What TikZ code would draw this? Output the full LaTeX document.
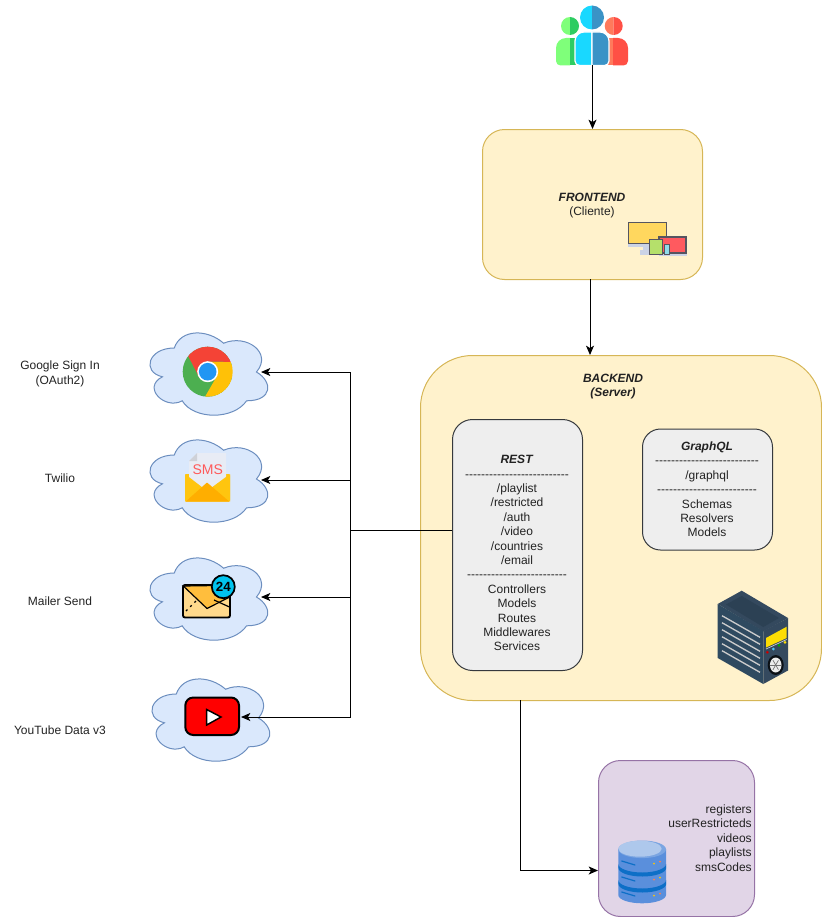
\documentclass[tikz,border=0pt]{standalone}
\usepackage{fontspec}
\setmainfont{Liberation Sans}
\newfontfamily\dashfont{Liberation Sans}
\usetikzlibrary{arrows.meta}
\definecolor{ink}{HTML}{222222}
\definecolor{cloudedge}{HTML}{6C8EBF}
\definecolor{cloudfill}{HTML}{DAE8FC}
\definecolor{frontedge}{HTML}{D6B656}
\definecolor{frontfill}{HTML}{FFF2CC}
\definecolor{restedge}{HTML}{36393D}
\definecolor{restfill}{HTML}{EEEEEE}
\definecolor{dbedge}{HTML}{9673A6}
\definecolor{dbfill}{HTML}{E1D5E7}
\definecolor{srvA}{HTML}{34495E}
\definecolor{srvB}{HTML}{2C4154}
\definecolor{srvD}{HTML}{2F4A60}
\definecolor{ga}{HTML}{7FFF7A}
\definecolor{gb}{HTML}{2ECC62}
\definecolor{ra}{HTML}{FF7A5C}
\definecolor{rb}{HTML}{FF5045}
\definecolor{ba}{HTML}{19D8FF}
\definecolor{bb}{HTML}{3A93C6}
\definecolor{chg}{HTML}{4CAF50}
\definecolor{chy}{HTML}{FFC107}
\definecolor{chr}{HTML}{F44336}
\definecolor{chb}{HTML}{2196F3}
\definecolor{sma}{HTML}{FFC50F}
\definecolor{smb}{HTML}{FFAE00}
\definecolor{smp}{HTML}{E8ECF5}
\definecolor{mla}{HTML}{FFD98C}
\definecolor{mlb}{HTML}{FFBE3D}
\definecolor{mlc}{HTML}{00C3EE}
\definecolor{dba}{HTML}{5A8FDC}
\definecolor{dbb}{HTML}{7AA5E2}
\definecolor{dbc}{HTML}{AEC8EC}
\definecolor{dbd}{HTML}{0D6FC7}
\definecolor{dvy}{HTML}{FFD75E}
\definecolor{dvr}{HTML}{FF5A5F}
\definecolor{dvg}{HTML}{B5E06B}
\definecolor{dvc}{HTML}{8FDCEB}
\definecolor{dvs}{HTML}{CBD3E6}
\definecolor{dve}{HTML}{555560}
\tikzset{
  box/.style={draw=#1,line width=0.75pt,inner sep=0pt,anchor=north west},
  conn/.style={draw=black,line width=0.75pt,-{Stealth[length=7pt,width=6pt,inset=1.8pt]}},
  lbl/.style={font=\fontsize{9}{10.8}\selectfont,text=ink,align=center,inner sep=0pt},
  cloudline/.style={draw=cloudedge,fill=cloudfill,line width=0.75pt},
  cloudicon/.pic={
    \path[cloudline] (32.875,24) .. controls (6.575,24) and (0,48) .. (21.04,52.8)
      .. controls (0,63.36) and (23.67,86.4) .. (40.765,76.8)
      .. controls (52.6,96) and (92.05,96) .. (105.2,76.8)
      .. controls (131.5,76.8) and (131.5,57.6) .. (115.06,48)
      .. controls (131.5,28.8) and (105.2,9.6) .. (82.19,19.2)
      .. controls (65.75,4.8) and (39.45,4.8) .. (32.875,24) -- cycle;
  }
}
\begin{document}
\begin{tikzpicture}[x=0.75pt,y=-0.75pt]
\useasboundingbox (0,0) rectangle (821,917);

% containers
\node[box=frontedge,fill=frontfill,rounded corners=16.5pt,minimum width=165pt,minimum height=112.5pt] (frontend) at (482,129) {};
\node[box=frontedge,fill=frontfill,rounded corners=39pt,minimum width=300.75pt,minimum height=258.75pt] (backend) at (420,355) {};
\node[box=restedge,fill=restfill,rounded corners=15pt,minimum width=97.5pt,minimum height=188.25pt] (rest) at (452,419) {};
\node[box=restedge,fill=restfill,rounded corners=13.5pt,minimum width=97.5pt,minimum height=90.75pt] (graphql) at (642,428.5) {};
\node[box=dbedge,fill=dbfill,rounded corners=16.5pt,minimum width=117pt,minimum height=117pt] (mongo) at (598,760) {};

% texts
\node[lbl] (fronttext) at (592,205.5) {\textbf{\textit{FRONTEND}}\\(Cliente)};
\node[lbl] (backtext) at (613,386.5) {\textbf{\textit{BACKEND}}\\\textbf{\textit{(Server)}}};
\node[lbl,anchor=north] (resttext) at (517,455) {\textbf{\textit{REST}}\\{\dashfont --------------------------}\\/playlist\\/restricted\\/auth\\/video\\/countries\\/email\\{\dashfont -------------------------}\\Controllers\\Models\\Routes\\Middlewares\\Services};
\node[lbl,anchor=north] (graphtext) at (707,441.5) {\textbf{\textit{GraphQL}}\\{\dashfont --------------------------}\\/graphql\\{\dashfont -------------------------}\\Schemas\\Resolvers\\Models};
\node[lbl,align=right,anchor=north east] (dbtext) at (752,804.5) {registers\\userRestricteds\\videos\\playlists\\smsCodes};
\node[lbl] (googletext) at (60,374) {Google Sign In\\(OAuth2)};
\node[lbl] (twiliotext) at (60,478) {Twilio};
\node[lbl] (mailertext) at (60,601.5) {Mailer Send};
\node[lbl] (youtubetext) at (60,730) {YouTube Data v3};

% clouds
\pic at (141.4,324) {cloudicon};
\pic at (141.4,431) {cloudicon};
\pic at (141.4,549) {cloudicon};
\pic at (143.4,670) {cloudicon};

% users icon
\fill[ga] (570,17) arc (-90:-270:9) -- cycle;
\fill[gb] (570,17) arc (-90:90:9) -- cycle;
\fill[ra] (613.7,17) arc (-90:-270:9) -- cycle;
\fill[rb] (613.7,17) arc (-90:90:9) -- cycle;
\fill[ga] (570,38) -- (566,38) arc (-90:-180:10) -- (556,61) arc (-180:-270:4.5) -- (570,65.5) -- cycle;
\fill[gb] (570,38) rectangle (578,65.5);
\fill[ra] (606,38) rectangle (614,65.5);
\fill[rb] (613,38) -- (618,38) arc (-90:0:10) -- (628,61) arc (0:90:4.5) -- (613,65.5) -- cycle;
\draw[white,line width=0.9pt,fill=ba] (592,32) -- (584,32) arc (-90:-180:9) -- (575,61) arc (-180:-270:4.5) -- (592,65.5) -- cycle;
\draw[white,line width=0.9pt,fill=bb] (592,32) -- (600,32) arc (-90:0:9) -- (609,61) arc (0:90:4.5) -- (592,65.5) -- cycle;
\fill[ba] (592,5.5) arc (-90:-270:12) -- cycle;
\fill[bb] (592,5.5) arc (-90:90:12) -- cycle;

% devices icon
\fill[dvs] (643,243) rectangle (652,250);
\fill[dvs] (640,250) rectangle (655,255);
\fill[dvs] (628,243) rectangle (667,246.5);
\draw[dve,line width=0.9pt,fill=dvy] (628.5,222.5) rectangle (666.5,243.5);
\fill[dvs] (659,253) rectangle (687,255.5);
\draw[dve,line width=0.9pt,fill=dvr] (659,237) rectangle (686,253);
\draw[dve,line width=0.9pt,fill=dvg] (649.5,239.5) rectangle (662.5,254.5);
\draw[dve,line width=0.6pt,fill=dvc] (664.5,244.5) rectangle (669,254.5);

% chrome icon
\begin{scope}
\clip (207.7,371.7) circle (25);
\fill[chg] (207.7,371.7) circle (25);
\fill[chy] (240,362) -- (207.7,361.5) -- (217,376) -- (202,402) -- (240,402) -- cycle;
\fill[chr] (199,377) -- (183,346) -- (183,330) -- (240,330) -- (240,362) -- (207.7,361.5) -- cycle;
\end{scope}
\fill[white] (207.7,371.7) circle (10.5);
\fill[chb] (207.7,371.7) circle (8.8);

% sms icon
\fill[sma,rounded corners=1pt] (185,474) -- (230,474) -- (230,501.7) -- (185,501.7) -- cycle;
\fill[smp] (197,453) -- (226,453) -- (226,491) -- (189,491) -- (189,461) -- cycle;
\fill[smp!75!gray] (197,453) -- (197,461) -- (189,461) -- cycle;
\fill[sma] (185,474) -- (207,491) -- (185,501.7) -- cycle;
\fill[sma] (230,474) -- (207,491) -- (230,501.7) -- cycle;
\fill[smb,rounded corners=0.5pt] (185.5,501.7) -- (207,482.5) -- (229.5,501.7) -- cycle;
\node[inner sep=0pt,font=\fontsize{10.5}{11}\selectfont,text=red!65!white] (smstext) at (207.7,470) {SMS};

% mail icon
\draw[black,line width=1.4pt,fill=mla,rounded corners=1.5pt] (183,585) rectangle (230,617.5);
\draw[black,line width=0.9pt,fill=mlb] (183.3,586) -- (207,608.5) -- (229.7,597) -- (229.7,585.3) -- cycle;
\draw[black,line width=0.9pt] (229.5,607) -- (214,600);
\draw[black,line width=0.9pt,dash pattern=on 1.5pt off 3pt] (186,611) -- (196,601);
\draw[black,line width=1.3pt,fill=mlc] (223.3,586.7) circle (11.5);
\node[inner sep=0pt,font=\fontsize{10}{10}\selectfont\bfseries,text=black] (mailbadge) at (223.3,586.9) {24};

% youtube icon
\draw[black,line width=1.5pt,fill=red,rounded corners=6pt] (185.3,697.5) rectangle (239,735);
\draw[black,line width=1.1pt,fill=white] (206.7,709.5) -- (221,717) -- (206.7,725) -- cycle;

% server icon
\fill[srvA] (741.7,590.7) -- (788,618) -- (763.3,631.5) -- (717.7,604) -- cycle;
\fill[srvB] (741.7,596) -- (779,618) -- (763.3,627) -- (726,604.5) -- cycle;
\fill[srvD] (717.7,604) -- (763.3,631) -- (763.3,684) -- (717.7,658) -- cycle;
\fill[srvA] (763.3,631) -- (788,618) -- (788,670.5) -- (763.3,684) -- cycle;
\foreach \k in {0,...,5}{
  \draw[black!20,line width=1pt] (722,615.7+7*\k) -- (760,637.3+7*\k);
}
\fill[yellow!80!orange] (766,638) -- (786.7,626.7) -- (786.7,638) -- (766,647.5) -- cycle;
\draw[white!75!srvA,line width=0.5pt] (766,649) -- (786.7,639.5);
\fill[red!80!black] (767.3,652.3) circle (1.5);
\fill[cyan!70!white] (773.3,649) circle (1.5);
\fill[green!65!black] (779,645.3) circle (1.5);
\fill[yellow!80!orange] (785,642.3) circle (1.5);
\fill[black!75!srvB] (775.7,665) ellipse (8 and 10);
\fill[white!85!gray] (775.7,665) ellipse (5.8 and 7.5);
\foreach \a in {0,60,...,300}{
  \draw[black!55,line width=0.5pt] (775.7,665) -- ++(\a:5.5);
}

% database icon
\fill[dba] (618.3,849) -- (618.3,895) arc (-180:-360:23.85 and 8.3) -- (666,849) -- cycle;
\fill[dbd] (618.3,864) arc (-180:-360:23.85 and 8.5) -- (666.15,868) arc (0:180:23.85 and 8.5) -- cycle;
\fill[dbd] (618.3,880) arc (-180:-360:23.85 and 8.5) -- (666.15,884) arc (0:180:23.85 and 8.5) -- cycle;
\fill[dbb] (642.15,849.3) ellipse (23.85 and 8.8);
\fill[dbc] (640,848.7) ellipse (21.7 and 8);
\foreach \y in {861,877,892}{
  \draw[dbd,line width=0.9pt,line cap=round] (621.7,\y) -- (635,\y+4);
}
\fill[yellow!60!orange] (654,863.7) circle (1);
\fill[orange!60!red!70!white] (660,861.7) circle (1);
\fill[orange!60!red!70!white] (654,879.7) circle (1);
\fill[yellow!60!orange] (660,877.7) circle (1);
\fill[yellow!60!orange] (654,895.7) circle (1);
\fill[orange!60!red!70!white] (660,893.7) circle (1);

% connectors
\coordinate (usersout) at (592.5,65.5);
\coordinate (feout) at (590,279);
\coordinate (bein) at (590,355);
\coordinate (restport) at (452,530);
\coordinate (trunk) at (350.7,530);
\coordinate (chromeport) at (261,372);
\coordinate (smsport) at (261,480);
\coordinate (mailport) at (261,597);
\coordinate (ytport) at (241,717);
\coordinate (beout) at (520.5,700);
\coordinate (dbin) at (598,870.5);
\draw[conn] (usersout) -- (usersout |- frontend.north);
\draw[conn] (feout) -- (bein);
\draw[conn] (restport) -- (trunk) |- (chromeport);
\draw[conn] (trunk) |- (smsport);
\draw[conn] (trunk) |- (mailport);
\draw[conn] (trunk) |- (ytport);
\draw[conn] (beout) |- (dbin);
\end{tikzpicture}
\end{document}
